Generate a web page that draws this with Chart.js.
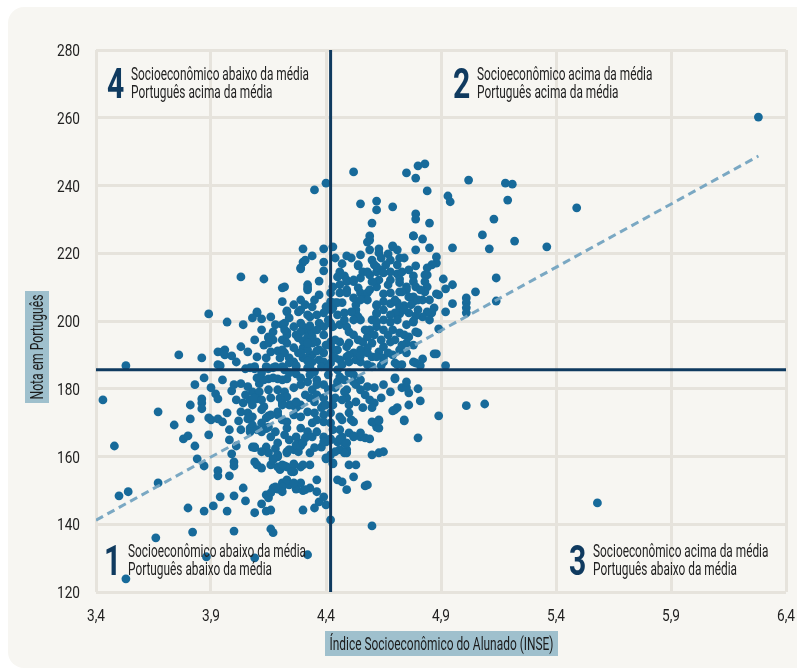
<!DOCTYPE html>
<html>
<head>
<meta charset="utf-8">
<script src="https://cdn.jsdelivr.net/npm/chart.js@4"></script>
<style>
  html, body { margin: 0; padding: 0; background: #ffffff; }
  canvas { display: block; }
</style>
</head>
<body>
<canvas id="grafico" width="797" height="672"></canvas>
<script>
// eixos
const ticksINSE = [3.4, 3.9, 4.4, 4.9, 5.4, 5.9, 6.4];
const ticksNota = [120, 140, 160, 180, 200, 220, 240, 260, 280];
const mediaINSE = 4.42;
const mediaNota = 185.6;
const tendencia = [[3.4, 141.2], [6.28, 248.7]];

// [INSE, nota em português]
const pontosExtremos = [
  [6.28,260.2],[5.49,233.4],[5.58,146.3],[5.36,221.9],[3.43,176.7],[3.48,163.1],[3.50,148.4],[3.54,149.6],
  [3.53,186.8],[3.53,123.9],[3.66,136.0],[3.82,137.7],[3.88,130.4],[4.00,138.0],[4.16,138.6],[4.17,137.5],
  [4.09,130.1],[4.32,131.0],[4.42,141.3],[4.60,139.5],[3.67,173.2],[3.74,169.3],[3.76,190.0],[3.86,189.1],
  [3.89,202.1],[3.67,152.2],[3.80,144.8],[3.87,143.9],[3.97,143.9],[3.91,145.4],[4.09,143.4],[4.52,244.0],
  [4.40,240.7],[4.35,238.7]
];

const pontosSuperiores = [
  [4.75,243.7],[4.80,245.8],[4.83,246.4],[4.79,242.2],[4.84,238.4],[5.02,241.6],[5.18,240.7],[5.21,240.4],
  [5.19,235.7],[4.93,236.9],[4.94,235.2],[4.55,234.6],[4.62,235.4],[4.62,232.8],[4.69,233.7],[4.79,231.6],
  [4.79,230.1],[4.85,228.9],[4.60,228.9],[5.13,230.1],[5.08,225.4],[5.22,223.6],[4.59,225.1],[4.59,223.9],
  [4.78,225.1],[4.82,224.2],[4.85,221.6],[4.95,221.6],[5.11,221.3],[4.79,221.0],[4.63,221.3],[4.69,222.2],
  [4.71,221.0],[4.30,221.3],[4.39,221.3],[4.43,221.9],[4.34,219.2],[4.30,217.4],[4.29,215.7],[4.49,219.2],
  [4.63,220.1],[4.67,219.8],[4.64,218.6],[4.68,218.0],[4.72,218.6],[4.60,218.0],[4.61,216.6],[4.54,216.3],
  [4.88,218.9],[4.88,217.1],[4.86,216.6],[4.79,216.3],[4.84,215.7],[4.83,213.6],[4.46,214.5],[4.48,213.3],
  [4.45,213.0],[4.39,214.8],[4.59,213.6],[4.62,214.5],[4.64,215.1],[4.66,216.6],[4.65,214.2],[4.55,212.7],
  [4.52,211.6],[4.56,214.5],[4.71,216.6],[4.71,213.9],[4.68,212.1],[4.72,212.4],[4.78,213.3],[4.78,211.6],
  [4.84,213.6],[4.91,212.4],[4.95,210.7],[4.83,211.6],[4.84,210.1],[4.79,210.1],[4.75,210.1],[4.72,211.3],
  [4.37,211.8],[4.32,210.7],[4.32,209.8],[4.43,210.1],[4.49,211.6],[4.46,208.3],[4.49,209.2],[4.54,209.8],
  [4.55,208.3],[4.57,207.1],[4.58,208.3],[4.59,209.2],[4.62,210.1],[4.65,208.0],[4.68,208.3],[4.72,208.6],
  [4.75,209.2],[4.78,207.1],[4.78,205.7],[4.82,206.2],[4.83,208.6],[4.88,208.0],[4.89,207.7],[4.92,209.5],
  [5.05,208.6],[5.01,206.8],[5.01,205.4],[5.01,203.9],[5.01,202.4],[5.14,205.9],[4.95,205.1],[4.92,202.7],
  [4.87,203.9],[4.86,202.4],[4.84,202.7],[4.82,201.2],[4.79,201.5],[4.78,200.0],[4.74,204.5],[4.76,202.4],
  [4.72,203.9],[4.72,202.1],[4.71,205.4],[4.68,205.1],[4.65,205.7],[4.62,204.5],[4.62,202.4],[4.58,206.2],
  [4.62,204.8],[4.62,202.1],[4.60,200.3],[4.55,200.3],[4.53,202.1],[4.53,204.8],[4.55,206.2],[4.53,203.3],
  [4.54,201.2],[4.52,200.3],[4.52,206.8],[4.49,208.3],[4.47,205.4],[4.45,205.4],[4.43,203.9],[4.42,208.3],
  [4.42,205.7],[4.40,204.2],[4.39,202.4],[4.34,204.2],[4.33,201.2],[4.32,201.8],[4.29,203.3],[4.36,201.8],
  [4.13,212.4],[4.21,209.8],[4.21,205.7],[4.29,206.2],[4.32,209.2],[4.29,215.4],[4.31,218.0],[4.49,212.1],
  [4.54,216.6],[4.58,223.3],[4.62,216.0],[4.69,221.9],[4.78,225.1],[4.10,202.7],[4.16,201.2],[4.23,202.7],
  [4.28,202.7],[4.44,205.4],[4.42,203.3],[4.48,202.4],[4.73,208.6],[4.76,207.1],[4.70,202.4],[4.03,213.0],
  [4.22,210.1],[4.10,202.4],[4.23,203.0],[5.14,212.7],[4.80,203.3],[4.85,200.3],[4.12,200.6],[4.08,200.9]
];

const pontosCentrais = [
  [4.37,199.4],[4.41,200.3],[4.43,198.3],[4.46,198.9],[4.49,198.3],[4.50,196.8],[4.29,199.4],[4.31,197.4],
  [4.32,195.3],[4.34,196.8],[4.36,193.8],[4.39,195.9],[4.42,193.8],[4.43,191.5],[4.46,193.8],[4.49,192.4],
  [4.52,195.9],[4.54,194.4],[4.56,193.8],[4.58,195.3],[4.59,197.4],[4.62,198.3],[4.62,199.7],[4.65,200.3],
  [4.68,199.7],[4.71,200.3],[4.65,197.4],[4.67,195.9],[4.69,197.4],[4.72,196.5],[4.75,198.9],[4.78,199.7],
  [4.79,196.8],[4.75,193.5],[4.72,191.5],[4.68,193.8],[4.65,192.4],[4.63,190.9],[4.60,193.5],[4.58,192.1],
  [4.60,189.4],[4.55,191.5],[4.52,190.6],[4.53,188.5],[4.49,189.4],[4.46,188.5],[4.47,187.1],[4.43,189.4],
  [4.42,187.6],[4.39,190.6],[4.37,188.5],[4.34,190.0],[4.32,189.1],[4.30,192.1],[4.32,191.5],[4.69,190.0],
  [4.70,187.6],[4.73,187.1],[4.78,187.9],[4.82,188.8],[4.88,190.3],[4.92,186.8],[4.65,189.1],[4.64,186.8],
  [4.58,187.1],[4.60,186.5],[4.81,186.8],[4.76,195.3],[4.78,192.9],[4.75,190.6],[4.73,192.9],[4.67,190.6],
  [4.62,189.4],[4.58,190.6],[4.50,193.5],[4.42,199.4],[4.39,198.3],[4.36,197.4],[4.34,195.3],[4.34,193.5],
  [4.30,198.3],[4.26,198.3],[4.27,195.9],[4.21,198.9],[4.23,196.8],[4.15,195.3],[4.17,194.4],[4.13,192.9],
  [4.10,189.4],[4.16,190.9],[4.21,194.4],[4.21,191.5],[4.26,192.1],[4.24,189.1],[4.30,189.1],[4.37,191.5],
  [4.34,187.9],[4.39,187.9],[4.42,192.9],[4.45,191.5],[4.44,189.1],[4.50,187.9],[4.55,187.9],[4.65,187.9],
  [4.71,187.1],[4.79,187.6],[4.21,186.5],[4.18,186.5],[4.14,186.5],[4.09,186.5],[4.27,186.5],[4.33,186.5],
  [4.38,186.5],[3.97,199.7],[4.04,198.9],[4.22,199.4],[4.17,196.8],[4.23,195.9],[4.29,196.8],[4.33,198.6],
  [4.15,195.0],[4.15,193.5],[4.23,193.5],[4.28,195.0],[4.30,194.1],[4.32,193.5],[4.03,192.4],[4.19,191.2],
  [4.22,190.6],[4.28,190.6],[4.36,191.2],[4.40,192.9],[3.93,190.9],[3.95,190.9],[3.96,191.5],[3.96,190.0],
  [3.99,189.7],[4.14,189.1],[3.93,187.1],[3.94,186.8],[4.26,187.9],[4.32,188.2],[4.20,189.1],[4.24,187.6],
  [4.29,190.6],[4.05,185.9],[4.07,186.2],[4.09,185.9],[4.15,185.9],[4.17,186.2],[4.22,185.6],[4.27,186.8],
  [4.32,186.2],[4.89,197.7],[4.80,196.5],[4.87,190.3]
];

const pontosInferiores = [
  [3.83,181.2],[3.95,182.6],[3.99,179.4],[4.03,181.5],[4.06,180.6],[4.11,181.5],[4.15,182.9],[4.19,182.9],
  [4.23,182.9],[4.27,184.4],[3.81,175.2],[3.86,177.0],[3.86,175.8],[3.92,178.5],[3.93,177.0],[3.86,174.1],
  [3.81,171.1],[3.89,171.4],[3.90,170.8],[3.93,171.1],[3.95,170.2],[3.97,172.9],[4.01,176.7],[4.04,175.8],
  [4.07,176.7],[4.10,177.0],[4.03,173.2],[4.06,172.9],[4.02,170.5],[4.06,171.1],[4.08,171.7],[4.12,173.8],
  [4.15,172.0],[4.19,172.3],[4.21,175.8],[4.24,175.2],[4.27,174.4],[4.29,175.2],[4.33,177.3],[4.35,176.1],
  [4.39,175.2],[3.78,165.2],[3.80,166.1],[3.89,166.4],[3.83,163.1],[3.84,159.3],[3.87,157.2],[3.98,167.9],
  [3.98,164.9],[4.01,163.1],[4.03,167.9],[4.07,168.4],[4.12,169.9],[4.14,168.2],[4.08,162.8],[4.09,162.6],
  [4.14,162.8],[4.15,161.1],[4.18,162.3],[3.99,160.8],[4.00,158.4],[4.00,157.2],[4.17,159.3],[4.19,159.9],
  [4.09,158.4],[4.23,161.4],[4.26,162.0],[4.29,164.0],[4.19,156.9],[4.22,157.2],[4.26,157.8],[4.26,155.5],
  [4.29,156.9],[4.33,157.5],[3.93,155.8],[3.93,154.3],[3.98,154.3],[4.04,150.7],[4.21,152.2],[4.24,151.6],
  [4.27,150.4],[4.30,149.9],[4.17,150.7],[4.19,150.4],[3.94,148.1],[4.00,148.4],[4.05,146.9],[4.14,148.7],
  [4.15,147.8],[4.12,146.0],[4.16,144.2],[4.14,143.9],[4.30,144.2],[4.35,144.8],[4.37,146.6],[4.39,148.1],
  [4.40,145.7],[4.45,153.1],[4.47,152.5],[4.40,159.3],[4.43,157.8],[4.10,183.2],[4.13,182.6],[4.17,183.2],
  [4.21,182.6],[4.08,179.1],[4.11,179.1],[4.15,179.7],[4.16,177.3],[4.09,177.3],[4.08,175.2],[4.19,179.7],
  [4.22,179.1],[4.23,177.6],[4.26,180.3],[4.29,181.2],[4.32,182.0],[4.33,184.1],[4.36,182.6],[4.34,179.7],
  [4.36,178.2],[4.39,177.3],[4.39,181.2],[4.41,179.7],[4.45,182.0],[4.46,183.5],[4.48,182.6],[4.50,184.7],
  [4.52,182.0],[4.53,181.2],[4.55,179.7],[4.57,178.2],[4.59,176.7],[4.61,175.8],[4.49,179.7],[4.49,177.3],
  [4.50,175.2],[4.53,176.1],[4.56,174.4],[4.60,174.4],[4.58,180.6],[4.61,180.3],[4.64,177.3],[4.65,181.2],
  [4.68,179.1],[4.70,183.2],[4.73,180.3],[4.76,178.8],[4.70,173.8],[4.71,174.4],[4.74,170.8],[4.76,175.2],
  [4.63,170.8],[4.62,168.7],[4.61,169.9],[4.50,172.9],[4.51,170.8],[4.52,170.2],[4.46,171.7],[4.47,170.8],
  [4.42,172.9],[4.42,169.9],[4.43,167.9],[4.39,172.3],[4.39,170.2],[4.35,172.9],[4.36,170.8],[4.34,169.9],
  [4.32,173.2],[4.29,171.7],[4.26,172.3],[4.19,173.2],[4.21,170.8],[4.23,170.2],[4.12,167.3],[4.08,169.3],
  [4.10,167.9],[4.07,167.3],[4.18,167.3],[4.16,165.8],[4.19,164.0],[4.23,168.4],[4.22,166.4],[4.24,164.9],
  [4.27,165.8],[4.29,168.4],[4.32,167.3],[4.31,165.5],[4.34,165.8],[4.36,167.3],[4.39,165.8],[4.42,164.9],
  [4.46,167.9],[4.47,165.8],[4.50,167.0],[4.52,165.8],[4.55,165.8],[4.57,165.5],[4.45,164.3],[4.48,164.0],
  [4.46,162.0],[4.42,160.5],[4.49,162.0],[4.60,160.5],[4.63,161.1],[4.65,161.4],[4.50,157.5],[4.53,157.5],
  [4.52,154.0],[4.58,151.6],[4.36,153.1],[4.36,149.6],[4.33,150.7],[4.29,152.2],[4.23,153.1],[4.21,151.0],
  [4.23,156.9],[4.20,156.1],[4.16,157.5],[4.12,156.6],[4.10,157.5],[4.12,161.4],[4.28,161.4],[4.27,163.4],
  [4.35,162.6],[4.38,162.8],[4.33,161.1],[4.07,171.7],[4.13,174.7],[4.38,174.4],[4.44,177.3],[4.41,184.1],
  [4.74,170.5],[4.81,176.4],[4.69,173.5],[4.57,151.3],[4.49,150.2],[4.29,163.1],[4.49,161.1],[4.59,165.2],
  [4.63,168.4],[4.55,167.0],[4.75,180.3],[4.80,180.0],[4.70,182.9],[4.75,182.0],[5.01,175.0],[5.09,175.5],
  [4.89,172.0],[4.80,165.5]
];

// núcleo mais denso da nuvem
const pontosNucleo = [
  [4.25,175.2],[4.27,176.1],[4.21,175.2],[4.16,172.3],[4.14,171.4],[4.15,168.7],[4.31,150.2],[4.26,152.2],
  [4.21,149.6],[4.18,151.0],[4.16,149.3],[4.26,157.5],[4.25,155.5],[4.21,157.5],[4.30,157.5],[4.09,162.8],
  [4.19,160.5],[4.17,159.0],[4.23,161.1],[4.24,162.0],[4.30,164.0],[4.40,164.3],[4.43,175.2],[4.40,175.2],
  [4.41,186.2],[4.44,161.4],[4.40,159.6],[4.43,158.1],[4.48,161.1],[4.52,166.1],[4.46,165.2],[4.42,165.2],
  [4.39,164.3],[4.49,164.0],[4.60,170.2],[4.63,170.5],[4.35,185.0],[4.45,185.6],[4.48,179.1],[4.52,184.1],
  [4.55,182.6],[4.36,181.2],[4.31,178.2],[4.44,180.3],[4.47,176.7],[4.29,183.2],[4.24,184.7],[4.12,184.7],
  [4.20,177.3],[4.12,176.7],[4.05,178.2],[4.00,181.2],[3.90,180.3],[3.87,183.2],[4.63,212.1],[4.67,210.7],
  [4.70,206.2],[4.74,203.3],[4.77,204.8],[4.80,206.2],[4.65,203.3],[4.68,201.8],[4.51,202.7],[4.48,200.3],
  [4.45,201.8],[4.46,210.7],[4.52,212.1],[4.60,211.6],[4.37,207.7],[4.35,206.2],[4.31,204.8],[4.26,204.8],
  [4.24,200.9],[4.22,197.4],[4.18,198.9],[4.12,197.4],[4.09,194.4],[4.06,190.9],[4.01,187.9],[4.39,217.4],
  [4.44,218.6],[4.47,216.9],[4.51,218.6],[4.55,219.5],[4.59,221.0],[4.58,214.5],[4.68,214.5],[4.73,214.5],
  [4.74,218.6],[4.76,215.1],[4.81,209.2],[4.85,206.2],[4.74,195.9],[4.70,194.4],[4.61,195.9],[4.57,197.4],
  [4.64,194.4],[4.55,189.7],[4.50,190.0],[4.44,194.4]
];

const corPonto = '#176a9a';
const corMedia = '#0f3a5f';
const corTendencia = 'rgba(115,163,192,0.95)';
const fonte = 'Roboto, "Liberation Sans", sans-serif';

const todosPontos = [].concat(pontosExtremos, pontosSuperiores, pontosCentrais, pontosInferiores, pontosNucleo)
  .map(p => ({ x: p[0], y: p[1] }));

function texto(ctx, str, x, y, size, weight, cor, escala, align) {
  ctx.save();
  ctx.font = weight + ' ' + size + 'px ' + fonte;
  ctx.fillStyle = cor;
  ctx.textAlign = align || 'left';
  ctx.textBaseline = 'alphabetic';
  ctx.translate(x, y);
  ctx.scale(escala, 1);
  ctx.fillText(str, 0, 0);
  ctx.restore();
}

function escalaPara(ctx, str, size, weight, largura) {
  ctx.save();
  ctx.font = weight + ' ' + size + 'px ' + fonte;
  const w = ctx.measureText(str).width;
  ctx.restore();
  return largura / w;
}

const fundo = {
  id: 'fundo',
  beforeDraw(chart) {
    const ctx = chart.ctx;
    ctx.save();
    ctx.fillStyle = '#ffffff';
    ctx.fillRect(0, 0, chart.width, chart.height);
    ctx.fillStyle = '#f7f6f2';
    ctx.beginPath();
    ctx.roundRect(8, 7, 820, 661, 16);
    ctx.fill();
    ctx.restore();
  }
};

const rotulos = {
  id: 'rotulos',
  afterDraw(chart) {
    const ctx = chart.ctx;
    const sx = chart.scales.x, sy = chart.scales.y;
    const area = chart.chartArea;

    // rótulos dos eixos
    const escTick = escalaPara(ctx, '280', 17, 'normal', 23);
    ticksNota.forEach(v => {
      texto(ctx, String(v), 80, sy.getPixelForValue(v) + 6, 17, 'normal', '#222222', escTick, 'right');
    });
    ticksINSE.forEach(v => {
      texto(ctx, v.toFixed(1).replace('.', ','), sx.getPixelForValue(v), area.bottom + 29, 17, 'normal', '#222222', escTick, 'center');
    });

    // título do eixo x
    const tituloX = 'Índice Socioeconômico do Alunado (INSE)';
    ctx.fillStyle = '#9fc0cd';
    ctx.fillRect(325, 631, 233, 25);
    texto(ctx, tituloX, 441.5, 650, 18, 'normal', '#1b1b1b', escalaPara(ctx, tituloX, 18, 'normal', 224), 'center');

    // título do eixo y
    const tituloY = 'Nota em Português';
    ctx.fillStyle = '#9fc0cd';
    ctx.fillRect(25, 291, 24, 112);
    ctx.save();
    ctx.translate(43, 347);
    ctx.rotate(-Math.PI / 2);
    texto(ctx, tituloY, 0, 0, 18, 'normal', '#1b1b1b', escalaPara(ctx, tituloY, 18, 'normal', 105), 'center');
    ctx.restore();

    // quadrantes
    const escQ = escalaPara(ctx, 'Socioeconômico abaixo da média', 19, 'normal', 178);
    const escN = 0.7;
    const quadrantes = [
      { n: '4', x: 107, y: 98, l1: 'Socioeconômico abaixo da média', l2: 'Português acima da média' },
      { n: '2', x: 453, y: 98, l1: 'Socioeconômico acima da média', l2: 'Português acima da média' },
      { n: '1', x: 104, y: 575, l1: 'Socioeconômico abaixo da média', l2: 'Português abaixo da média' },
      { n: '3', x: 569, y: 575, l1: 'Socioeconômico acima da média', l2: 'Português abaixo da média' }
    ];
    quadrantes.forEach(q => {
      texto(ctx, q.n, q.x, q.y, 43, 'bold', corMedia, escN, 'left');
      texto(ctx, q.l1, q.x + 24, q.y - 18, 19, 'normal', '#222222', escQ, 'left');
      texto(ctx, q.l2, q.x + 24, q.y, 19, 'normal', '#222222', escQ, 'left');
    });
  }
};

const ctx = document.getElementById('grafico').getContext('2d');
new Chart(ctx, {
  type: 'scatter',
  data: {
    datasets: [
      {
        label: 'Média INSE',
        type: 'line',
        data: [{ x: mediaINSE, y: 120 }, { x: mediaINSE, y: 280 }],
        borderColor: corMedia,
        borderWidth: 3,
        pointRadius: 0,
        order: 1
      },
      {
        label: 'Média Português',
        type: 'line',
        data: [{ x: 3.4, y: mediaNota }, { x: 6.4, y: mediaNota }],
        borderColor: corMedia,
        borderWidth: 3,
        pointRadius: 0,
        order: 1
      },
      {
        label: 'Tendência',
        type: 'line',
        data: tendencia.map(p => ({ x: p[0], y: p[1] })),
        borderColor: corTendencia,
        borderWidth: 3,
        borderDash: [8, 5],
        pointRadius: 0,
        order: 2
      },
      {
        label: 'Escolas',
        data: todosPontos,
        backgroundColor: corPonto,
        borderWidth: 0,
        pointRadius: 4.4,
        order: 3
      }
    ]
  },
  options: {
    responsive: false,
    animation: false,
    layout: { padding: { top: 50, right: 11, left: 0, bottom: 0 } },
    plugins: { legend: { display: false }, tooltip: { enabled: false } },
    scales: {
      x: {
        type: 'linear',
        min: 3.4,
        max: 6.4,
        afterBuildTicks: s => { s.ticks = ticksINSE.map(v => ({ value: v })); },
        afterFit: s => { s.height = 80; },
        ticks: { display: false },
        grid: { color: '#e6e3dc', lineWidth: 3, drawTicks: false },
        border: { display: false }
      },
      y: {
        type: 'linear',
        min: 120,
        max: 280,
        afterBuildTicks: s => { s.ticks = ticksNota.map(v => ({ value: v })); },
        afterFit: s => { s.width = 96; },
        ticks: { display: false },
        grid: { color: '#e6e3dc', lineWidth: 3, drawTicks: false },
        border: { display: false }
      }
    }
  },
  plugins: [fundo, rotulos]
});
</script>
</body>
</html>
